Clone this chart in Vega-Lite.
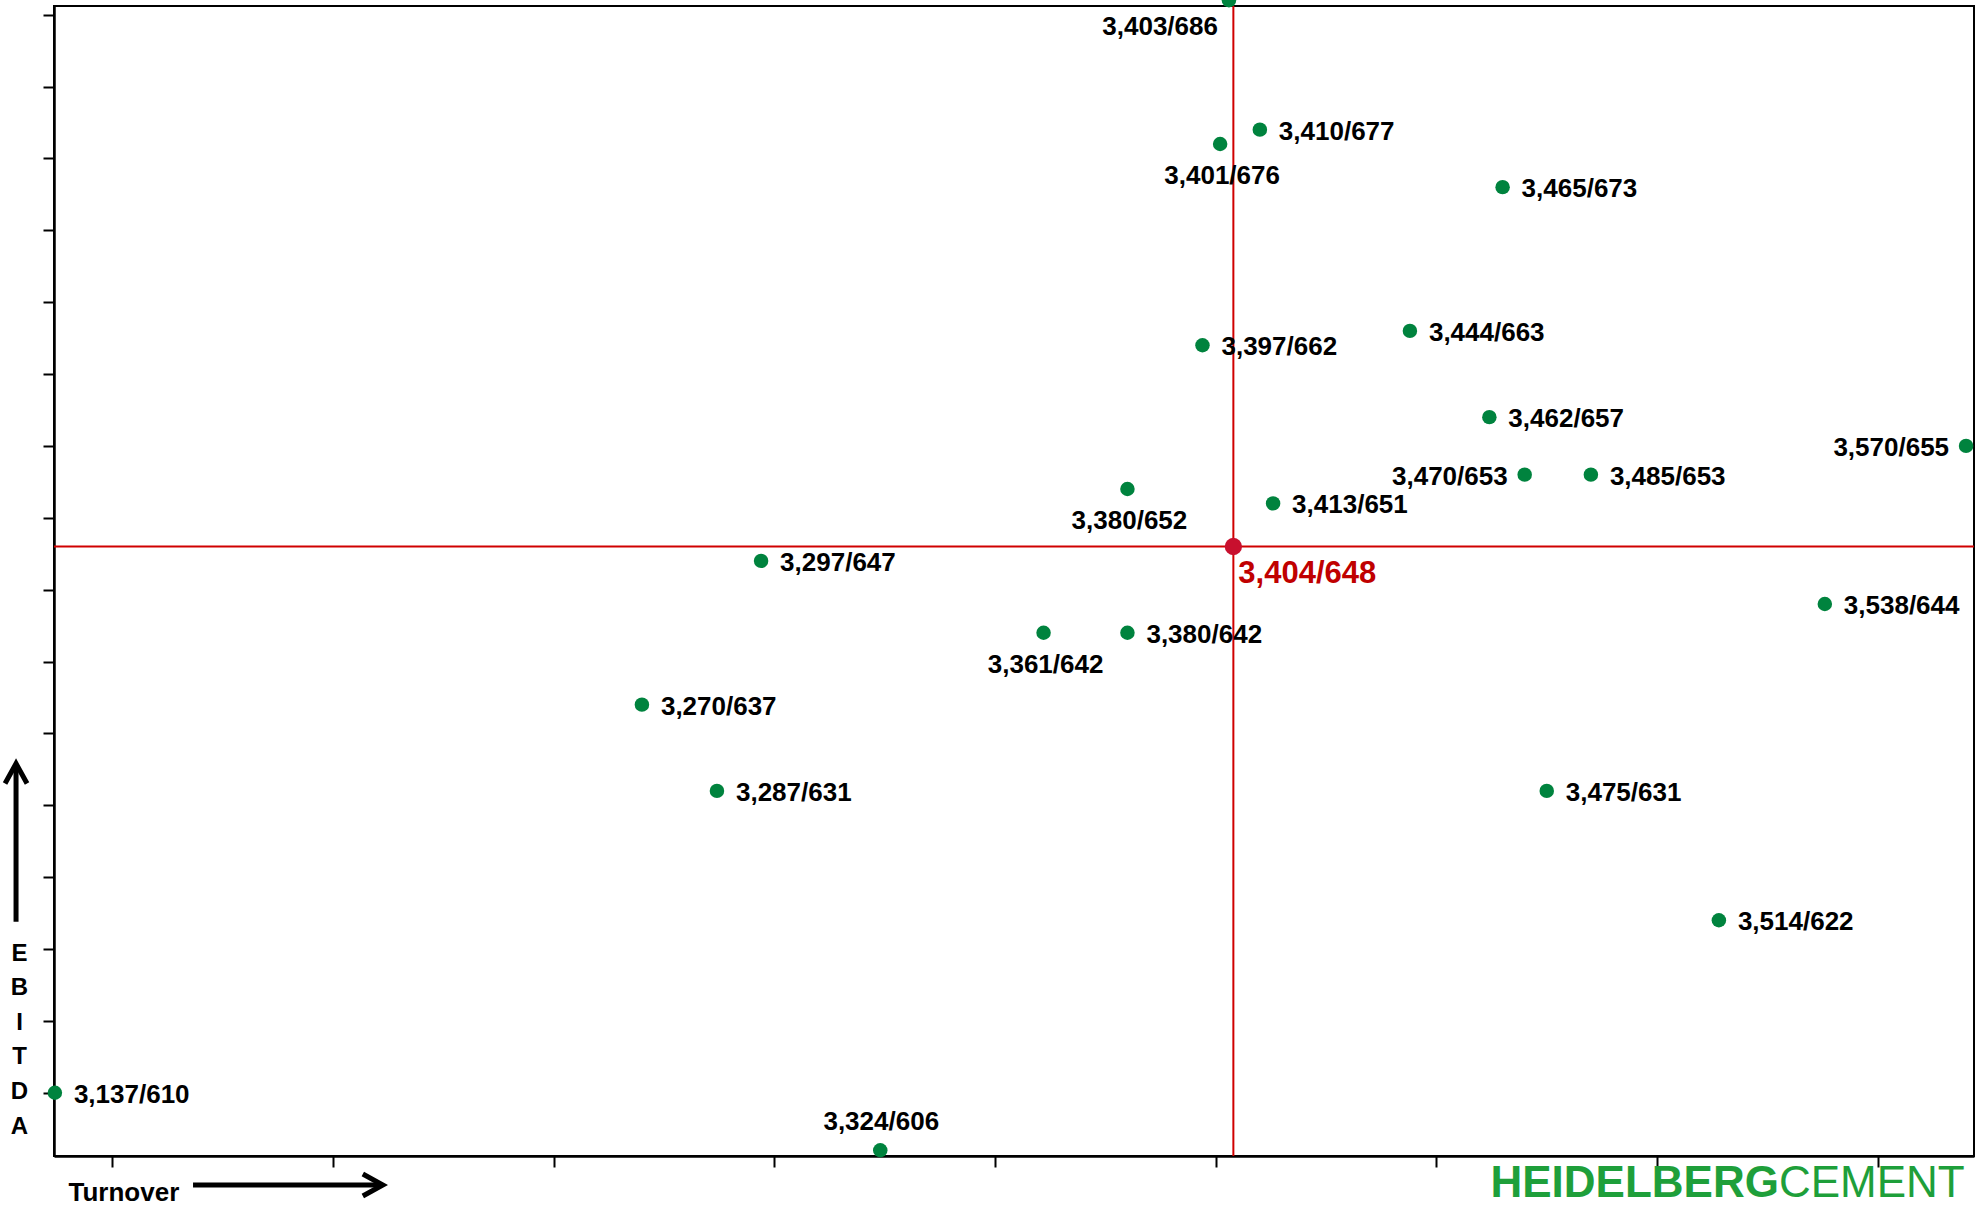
{
  "$schema": "https://vega.github.io/schema/vega-lite/v6.json",
  "width": 1920,
  "height": 1150,
  "autosize": {"type": "none"},
  "padding": {"left": 54, "top": 6, "right": 11, "bottom": 53},
  "background": "white",
  "config": {"view": {"stroke": "#000", "strokeWidth": 2}, "font": "Liberation Sans"},
  "datasets": {
    "points": [
      {"turnover": 3403, "ebitda": 686, "label": "3,403/686"},
      {"turnover": 3410, "ebitda": 677, "label": "3,410/677"},
      {"turnover": 3401, "ebitda": 676, "label": "3,401/676"},
      {"turnover": 3465, "ebitda": 673, "label": "3,465/673"},
      {"turnover": 3444, "ebitda": 663, "label": "3,444/663"},
      {"turnover": 3397, "ebitda": 662, "label": "3,397/662"},
      {"turnover": 3462, "ebitda": 657, "label": "3,462/657"},
      {"turnover": 3570, "ebitda": 655, "label": "3,570/655"},
      {"turnover": 3470, "ebitda": 653, "label": "3,470/653"},
      {"turnover": 3485, "ebitda": 653, "label": "3,485/653"},
      {"turnover": 3380, "ebitda": 652, "label": "3,380/652"},
      {"turnover": 3413, "ebitda": 651, "label": "3,413/651"},
      {"turnover": 3297, "ebitda": 647, "label": "3,297/647"},
      {"turnover": 3538, "ebitda": 644, "label": "3,538/644"},
      {"turnover": 3361, "ebitda": 642, "label": "3,361/642"},
      {"turnover": 3380, "ebitda": 642, "label": "3,380/642"},
      {"turnover": 3270, "ebitda": 637, "label": "3,270/637"},
      {"turnover": 3287, "ebitda": 631, "label": "3,287/631"},
      {"turnover": 3475, "ebitda": 631, "label": "3,475/631"},
      {"turnover": 3514, "ebitda": 622, "label": "3,514/622"},
      {"turnover": 3137, "ebitda": 610, "label": "3,137/610"},
      {"turnover": 3324, "ebitda": 606, "label": "3,324/606"}
    ],
    "average": [
      {"turnover": 3404, "ebitda": 648, "label": "3,404/648"}
    ]
  },
  "layer": [
    {
      "data": {"name": "average"},
      "mark": {"type": "rule", "color": "#D00000", "strokeWidth": 2},
      "encoding": {
        "x": {
          "field": "turnover", "type": "quantitative",
          "scale": {"domain": [3136.8, 3571.8], "zero": false, "nice": false},
          "axis": {
            "values": [3150, 3200, 3250, 3300, 3350, 3400, 3450, 3500, 3550],
            "labels": false, "grid": false, "ticks": true, "tickSize": 11, "tickWidth": 2, "tickColor": "#000",
            "domain": true, "domainColor": "#000", "domainWidth": 2.5,
            "title": "Turnover", "titleX": 14, "titleY": 44, "titleAlign": "left", "titleBaseline": "alphabetic",
            "titleAngle": 0, "titleFontSize": 26, "titleFontWeight": "bold", "titleColor": "#000", "titleFont": "Liberation Sans"
          }
        }
      }
    },
    {
      "data": {"name": "average"},
      "mark": {"type": "rule", "color": "#D00000", "strokeWidth": 2},
      "encoding": {
        "y": {
          "field": "ebitda", "type": "quantitative",
          "scale": {"domain": [605.6, 685.6], "zero": false, "nice": false},
          "axis": {
            "values": [610, 615, 620, 625, 630, 635, 640, 645, 650, 655, 660, 665, 670, 675, 680, 685],
            "labels": false, "grid": false, "ticks": true, "tickSize": 11, "tickWidth": 2, "tickColor": "#000",
            "domain": true, "domainColor": "#000", "domainWidth": 2.5,
            "title": ["E", "B", "I", "T", "D", "A"], "titleX": -35, "titleY": 954, "titleAlign": "center",
            "titleBaseline": "alphabetic", "titleAngle": 0, "titleLineHeight": 34.6,
            "titleFontSize": 24, "titleFontWeight": "bold", "titleColor": "#000", "titleFont": "Liberation Sans"
          }
        }
      }
    },
    {
      "data": {"name": "points"},
      "mark": {"type": "point", "filled": true, "size": 210, "color": "#00833E", "opacity": 1},
      "encoding": {
        "x": {"field": "turnover", "type": "quantitative"},
        "y": {"field": "ebitda", "type": "quantitative"}
      }
    },
    {
      "data": {"name": "points"},
      "transform": [{"filter": {"field": "label", "oneOf": ["3,410/677", "3,465/673", "3,444/663", "3,397/662", "3,462/657", "3,485/653", "3,413/651", "3,297/647", "3,538/644", "3,380/642", "3,270/637", "3,287/631", "3,475/631", "3,514/622", "3,137/610"]}}],
      "mark": {"type": "text", "align": "left", "baseline": "middle", "dx": 19, "dy": 2, "fontSize": 26, "fontWeight": "bold", "font": "Liberation Sans", "color": "#000"},
      "encoding": {
        "x": {"field": "turnover", "type": "quantitative"},
        "y": {"field": "ebitda", "type": "quantitative"},
        "text": {"field": "label"}
      }
    },
    {
      "data": {"name": "points"},
      "transform": [{"filter": {"field": "label", "oneOf": ["3,470/653", "3,570/655"]}}],
      "mark": {"type": "text", "align": "right", "baseline": "middle", "dx": -17, "dy": 2, "fontSize": 26, "fontWeight": "bold", "font": "Liberation Sans", "color": "#000"},
      "encoding": {
        "x": {"field": "turnover", "type": "quantitative"},
        "y": {"field": "ebitda", "type": "quantitative"},
        "text": {"field": "label"}
      }
    },
    {
      "data": {"name": "points"},
      "transform": [{"filter": {"field": "label", "oneOf": ["3,403/686"]}}],
      "mark": {"type": "text", "align": "right", "baseline": "middle", "dx": -11, "dy": 27, "fontSize": 26, "fontWeight": "bold", "font": "Liberation Sans", "color": "#000"},
      "encoding": {
        "x": {"field": "turnover", "type": "quantitative"},
        "y": {"field": "ebitda", "type": "quantitative"},
        "text": {"field": "label"}
      }
    },
    {
      "data": {"name": "points"},
      "transform": [{"filter": {"field": "label", "oneOf": ["3,401/676", "3,380/652", "3,361/642"]}}],
      "mark": {"type": "text", "align": "center", "baseline": "middle", "dx": 2, "dy": 32, "fontSize": 26, "fontWeight": "bold", "font": "Liberation Sans", "color": "#000"},
      "encoding": {
        "x": {"field": "turnover", "type": "quantitative"},
        "y": {"field": "ebitda", "type": "quantitative"},
        "text": {"field": "label"}
      }
    },
    {
      "data": {"name": "points"},
      "transform": [{"filter": {"field": "label", "oneOf": ["3,324/606"]}}],
      "mark": {"type": "text", "align": "center", "baseline": "middle", "dx": 1, "dy": -28, "fontSize": 26, "fontWeight": "bold", "font": "Liberation Sans", "color": "#000"},
      "encoding": {
        "x": {"field": "turnover", "type": "quantitative"},
        "y": {"field": "ebitda", "type": "quantitative"},
        "text": {"field": "label"}
      }
    },
    {
      "data": {"name": "average"},
      "mark": {"type": "point", "filled": true, "size": 300, "color": "#C8102E", "opacity": 1},
      "encoding": {
        "x": {"field": "turnover", "type": "quantitative"},
        "y": {"field": "ebitda", "type": "quantitative"}
      }
    },
    {
      "data": {"name": "average"},
      "mark": {"type": "text", "align": "left", "baseline": "middle", "dx": 5, "dy": 27, "fontSize": 31, "fontWeight": "bold", "font": "Liberation Sans", "color": "#C00000"},
      "encoding": {
        "x": {"field": "turnover", "type": "quantitative"},
        "y": {"field": "ebitda", "type": "quantitative"},
        "text": {"field": "label"}
      }
    },
    {
      "data": {"name": "average"},
      "mark": {"type": "rule", "color": "#000", "strokeWidth": 5},
      "encoding": {
        "x": {"datum": 3128.2, "type": "quantitative"},
        "y": {"datum": 621.9, "type": "quantitative"},
        "y2": {"datum": 632.7}
      }
    },
    {
      "data": {"name": "average"},
      "mark": {"type": "point", "filled": false, "shape": "M -0.55 1 L 0 0 L 0.55 1", "size": 1600, "stroke": "#000", "strokeWidth": 5, "strokeJoin": "miter", "opacity": 1},
      "encoding": {
        "x": {"datum": 3128.2, "type": "quantitative"},
        "y": {"datum": 632.9, "type": "quantitative"}
      }
    },
    {
      "data": {"name": "average"},
      "mark": {"type": "rule", "color": "#000", "strokeWidth": 5},
      "encoding": {
        "x": {"datum": 3168.3, "type": "quantitative"},
        "x2": {"datum": 3210.9},
        "y": {"datum": 603.58, "type": "quantitative"}
      }
    },
    {
      "data": {"name": "average"},
      "mark": {"type": "point", "filled": false, "shape": "M -1 -0.55 L 0 0 L -1 0.55", "size": 1600, "stroke": "#000", "strokeWidth": 5, "strokeJoin": "miter", "opacity": 1},
      "encoding": {
        "x": {"datum": 3211.3, "type": "quantitative"},
        "y": {"datum": 603.58, "type": "quantitative"}
      }
    },
    {
      "data": {"name": "average"},
      "mark": {"type": "text", "text": "HEIDELBERG", "align": "right", "baseline": "alphabetic", "fontSize": 44, "fontWeight": "bold", "font": "Liberation Sans", "color": "#1E9F3A"},
      "encoding": {
        "x": {"datum": 3527.6, "type": "quantitative"},
        "y": {"datum": 602.75, "type": "quantitative"}
      }
    },
    {
      "data": {"name": "average"},
      "mark": {"type": "text", "text": "CEMENT", "align": "left", "baseline": "alphabetic", "fontSize": 44, "fontWeight": "normal", "font": "Liberation Sans", "color": "#1E9F3A"},
      "encoding": {
        "x": {"datum": 3527.6, "type": "quantitative"},
        "y": {"datum": 602.75, "type": "quantitative"}
      }
    }
  ]
}
